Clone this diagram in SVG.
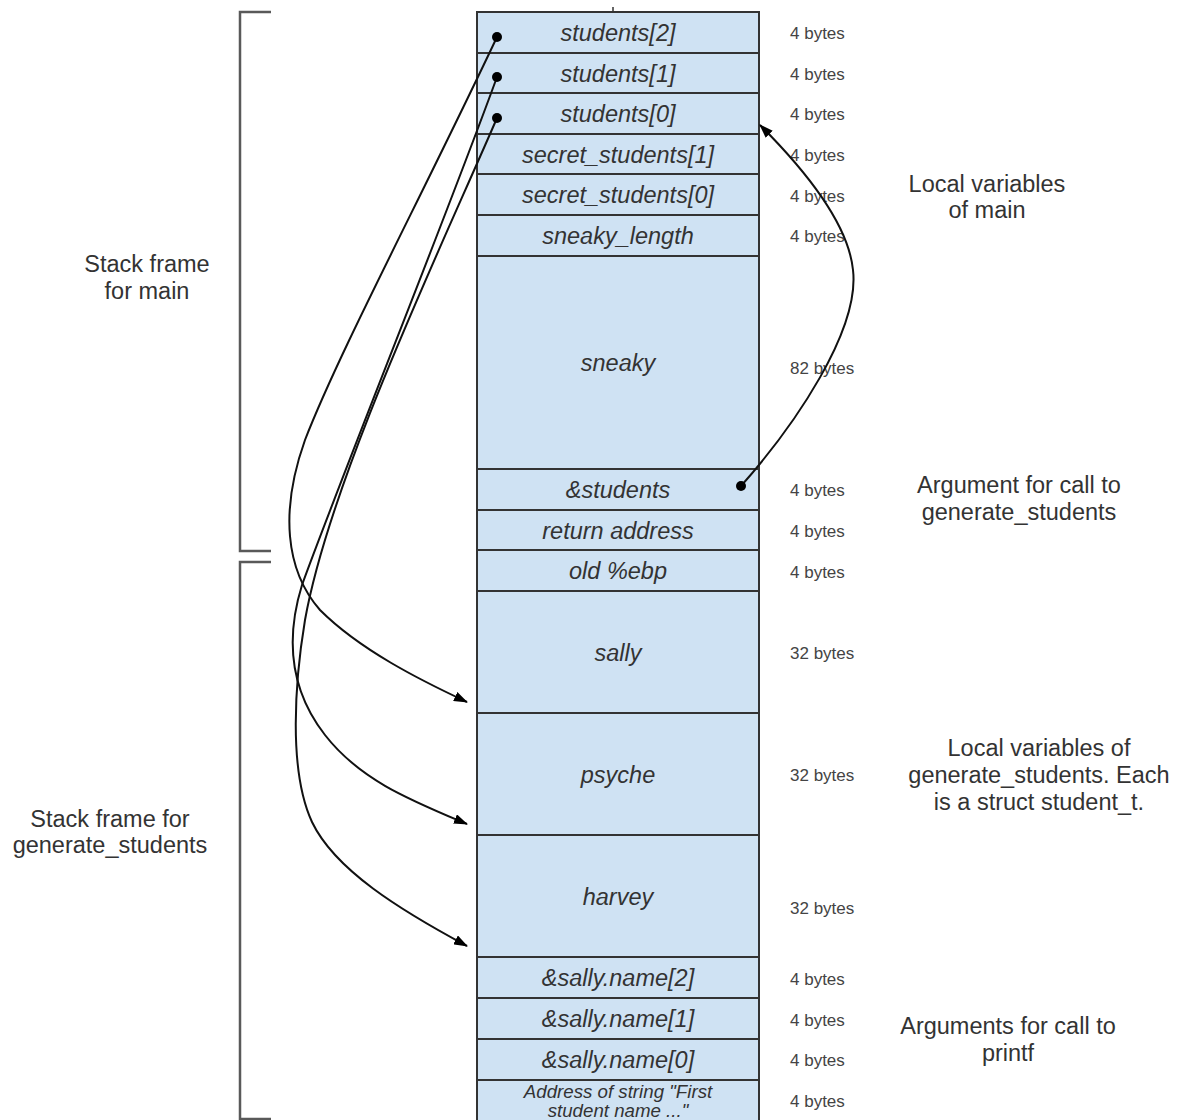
<svg xmlns="http://www.w3.org/2000/svg" width="1182" height="1120" viewBox="0 0 1182 1120">
<style>
.cell{fill:#cfe2f3;stroke:#333;stroke-width:2}
.ct{font-family:"Liberation Sans",Arial,sans-serif;font-style:italic;font-size:23.5px;fill:#333;text-anchor:middle}
.sz{font-family:"Liberation Sans",Arial,sans-serif;font-size:17px;fill:#444}
.lbl{font-family:"Liberation Sans",Arial,sans-serif;font-size:23.5px;fill:#333;text-anchor:middle}
.br{fill:none;stroke:#595959;stroke-width:2.5}
.cn{fill:none;stroke:#111;stroke-width:2}
.dot{fill:#000}
</style>
<defs>
<marker id="ah" viewBox="0 0 14 10" refX="13" refY="5" markerWidth="14" markerHeight="10" markerUnits="userSpaceOnUse" orient="auto">
<path d="M0,0 L14,5 L0,10 Z" fill="#000"/>
</marker>
</defs>
<g id="stack">
<line x1="613" y1="7" x2="613" y2="12" stroke="#333" stroke-width="1.5"/>
<g id="n-students2"><rect class="cell" x="477" y="12" width="282" height="41"/><text class="ct" x="618" y="41">students[2]</text></g>
<g id="n-students1"><rect class="cell" x="477" y="53" width="282" height="40"/><text class="ct" x="618" y="81.5">students[1]</text></g>
<g id="n-students0"><rect class="cell" x="477" y="93" width="282" height="41"/><text class="ct" x="618" y="122">students[0]</text></g>
<g id="n-secret1"><rect class="cell" x="477" y="134" width="282" height="40"/><text class="ct" x="618" y="162.5">secret_students[1]</text></g>
<g id="n-secret0"><rect class="cell" x="477" y="174" width="282" height="41"/><text class="ct" x="618" y="203">secret_students[0]</text></g>
<g id="n-sneaky_length"><rect class="cell" x="477" y="215" width="282" height="41"/><text class="ct" x="618" y="244">sneaky_length</text></g>
<g id="n-sneaky"><rect class="cell" x="477" y="256" width="282" height="213"/><text class="ct" x="618" y="371">sneaky</text></g>
<g id="n-amp-students"><rect class="cell" x="477" y="469" width="282" height="41"/><text class="ct" x="618" y="497.5">&amp;students</text></g>
<g id="n-return"><rect class="cell" x="477" y="510" width="282" height="40"/><text class="ct" x="618" y="538.5">return address</text></g>
<g id="n-oldebp"><rect class="cell" x="477" y="550" width="282" height="41"/><text class="ct" x="618" y="579">old %ebp</text></g>
<g id="n-sally"><rect class="cell" x="477" y="591" width="282" height="122"/><text class="ct" x="618" y="660.5">sally</text></g>
<g id="n-psyche"><rect class="cell" x="477" y="713" width="282" height="122"/><text class="ct" x="618" y="782.5">psyche</text></g>
<g id="n-harvey"><rect class="cell" x="477" y="835" width="282" height="122"/><text class="ct" x="618" y="904.5">harvey</text></g>
<g id="n-name2"><rect class="cell" x="477" y="957" width="282" height="41"/><text class="ct" x="618" y="986">&amp;sally.name[2]</text></g>
<g id="n-name1"><rect class="cell" x="477" y="998" width="282" height="41"/><text class="ct" x="618" y="1027">&amp;sally.name[1]</text></g>
<g id="n-name0"><rect class="cell" x="477" y="1039" width="282" height="41"/><text class="ct" x="618" y="1068">&amp;sally.name[0]</text></g>
<g id="n-address"><rect class="cell" x="477" y="1080" width="282" height="50"/><text class="ct" x="618" y="1098" style="font-size:18.7px">Address of string "First</text><text class="ct" x="618" y="1117" style="font-size:18.7px">student name ..."</text></g>
</g>
<g id="sizes">
<text class="sz" x="790" y="39">4 bytes</text>
<text class="sz" x="790" y="80">4 bytes</text>
<text class="sz" x="790" y="120">4 bytes</text>
<text class="sz" x="790" y="161">4 bytes</text>
<text class="sz" x="790" y="202">4 bytes</text>
<text class="sz" x="790" y="242">4 bytes</text>
<text class="sz" x="790" y="374">82 bytes</text>
<text class="sz" x="790" y="496">4 bytes</text>
<text class="sz" x="790" y="537">4 bytes</text>
<text class="sz" x="790" y="578">4 bytes</text>
<text class="sz" x="790" y="659">32 bytes</text>
<text class="sz" x="790" y="781">32 bytes</text>
<text class="sz" x="790" y="914">32 bytes</text>
<text class="sz" x="790" y="985">4 bytes</text>
<text class="sz" x="790" y="1026">4 bytes</text>
<text class="sz" x="790" y="1066">4 bytes</text>
<text class="sz" x="790" y="1107">4 bytes</text>
</g>
<g id="frame-main">
<path class="br" d="M271,12 H240 V551 H271"/>
<text class="lbl" x="147" y="272">Stack frame</text>
<text class="lbl" x="147" y="299">for main</text>
</g>
<g id="frame-generate">
<path class="br" d="M271,562 H240 V1119 H271"/>
<text class="lbl" x="110" y="827">Stack frame for</text>
<text class="lbl" x="110" y="853">generate_students</text>
</g>
<g id="notes">
<text class="lbl" x="987" y="192">Local variables</text>
<text class="lbl" x="987" y="218">of main</text>
<text class="lbl" x="1019" y="493">Argument for call to</text>
<text class="lbl" x="1019" y="520">generate_students</text>
<text class="lbl" x="1039" y="756">Local variables of</text>
<text class="lbl" x="1039" y="783">generate_students. Each</text>
<text class="lbl" x="1039" y="810">is a struct student_t.</text>
<text class="lbl" x="1008" y="1034">Arguments for call to</text>
<text class="lbl" x="1008" y="1061">printf</text>
</g>
<g id="connectors">
<path class="cn" marker-end="url(#ah)" d="M497,37 C420,200 340,350 305,440 C280,510 285,570 320,610 C360,650 420,680 467,702"/>
<path class="cn" marker-end="url(#ah)" d="M497,77 C445,220 340,480 302,585 C285,640 290,690 325,735 C360,780 410,800 467,824"/>
<path class="cn" marker-end="url(#ah)" d="M497,118 C440,250 330,480 305,620 C295,680 288,770 312,822 C335,870 400,910 467,946"/>
<path class="cn" marker-end="url(#ah)" d="M741,486 C795,425 860,330 853,270 C848,220 800,165 760,125"/>
<circle class="dot" cx="497" cy="37" r="5"/>
<circle class="dot" cx="497" cy="77" r="5"/>
<circle class="dot" cx="497" cy="118" r="5"/>
<circle class="dot" cx="741" cy="486" r="5"/>
</g>
</svg>
